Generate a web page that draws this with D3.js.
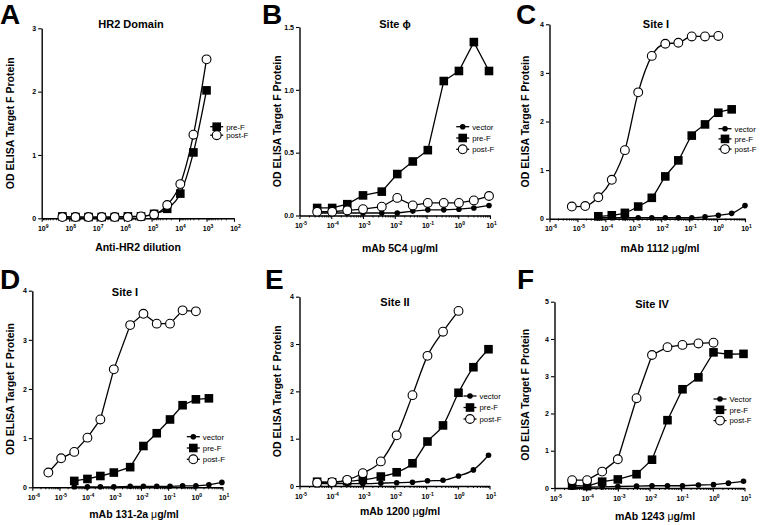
<!DOCTYPE html>
<html><head><meta charset="utf-8">
<script src="https://cdn.jsdelivr.net/npm/d3@7"></script>
<style>
body{margin:0;background:#fff}
svg{display:block}
text{font-family:"Liberation Sans",Arial,Helvetica,sans-serif;fill:#000}
</style>
</head><body>
<svg id="chart" width="760" height="525"></svg>
<script>
// ---------------- DATA ----------------
// Panel A: HR2 Domain (x = dilution, reversed log axis)
const aDilution = [1.77e8, 5.9e7, 1.97e7, 6.56e6, 2.19e6, 7.29e5, 2.43e5, 8.1e4, 2.7e4, 9.0e3, 3.0e3, 1.0e3];
const aPreF  = [0.03, 0.02, 0.02, 0.02, 0.02, 0.03, 0.03, 0.07, 0.15, 0.39, 1.04, 2.02];
const aPostF = [0.02, 0.02, 0.02, 0.02, 0.02, 0.02, 0.03, 0.06, 0.21, 0.54, 1.32, 2.51];
const aXTickExp = [9, 8, 7, 6, 5, 4, 3, 2];
const aYTicks = [0, 1, 2, 3];

// Panel B: Site phi, mAb 5C4
const bDose   = [3.6e-5, 1.07e-4, 3.2e-4, 1.0e-3, 3.9e-3, 1.2e-2, 3.7e-2, 0.11, 0.35, 1.05, 3.1, 9.3];
const bVector = [0.02, 0.02, 0.02, 0.02, 0.02, 0.02, 0.035, 0.045, 0.045, 0.05, 0.06, 0.08];
const bPreF   = [0.06, 0.06, 0.09, 0.16, 0.19, 0.33, 0.43, 0.52, 1.07, 1.15, 1.38, 1.15];
const bPostF  = [0.03, 0.03, 0.04, 0.05, 0.07, 0.14, 0.08, 0.10, 0.10, 0.10, 0.12, 0.155];
const bXTickExp = [-5, -4, -3, -2, -1, 0, 1];
const bYTicks = [0, 0.5, 1.0, 1.5];

// Panel C: Site I, mAb 1112
const cDose   = [6.3e-6, 1.9e-5, 5.6e-5, 1.7e-4, 5.0e-4, 1.5e-3, 4.6e-3, 1.4e-2, 4.1e-2, 0.124, 0.37, 1.11, 3.33, 10];
const cVector = [null, null, 0.02, 0.02, 0.02, 0.02, 0.02, 0.02, 0.02, 0.02, 0.04, 0.07, 0.11, 0.27];
const cPreF   = [null, null, 0.05, 0.07, 0.12, 0.25, 0.43, 0.87, 1.20, 1.71, 1.94, 2.18, 2.25, null];
const cPostF  = [0.25, 0.26, 0.44, 0.80, 1.41, 2.60, 3.35, 3.60, 3.62, 3.75, 3.75, 3.76, null, null];
const cXTickExp = [-6, -5, -4, -3, -2, -1, 0, 1];
const cYTicks = [0, 1, 2, 3, 4];

// Panel D: Site I, mAb 131-2a
const dDose   = [3.9e-6, 1.15e-5, 3.5e-5, 1.07e-4, 3.2e-4, 1.0e-3, 4.0e-3, 1.23e-2, 3.8e-2, 0.117, 0.34, 1.05, 3.16, 9.5];
const dVector = [null, null, 0.01, 0.01, 0.01, 0.01, 0.02, 0.02, 0.02, 0.02, 0.03, 0.03, 0.05, 0.10];
const dPreF   = [null, null, 0.13, 0.17, 0.23, 0.30, 0.41, 0.84, 1.10, 1.38, 1.67, 1.79, 1.81, null];
const dPostF  = [0.30, 0.59, 0.72, 1.01, 1.38, 2.40, 3.30, 3.53, 3.33, 3.33, 3.60, 3.58, null, null];
const dXTickExp = [-6, -5, -4, -3, -2, -1, 0, 1];
const dYTicks = [0, 1, 2, 3, 4];

// Panel E: Site II, mAb 1200
const eDose   = [3.6e-5, 1.07e-4, 3.2e-4, 1.0e-3, 3.7e-3, 1.17e-2, 3.7e-2, 0.11, 0.34, 1.05, 3.1, 9.3];
const eVector = [0.05, 0.05, 0.05, 0.05, 0.06, 0.07, 0.08, 0.11, 0.12, 0.21, 0.34, 0.65];
const ePreF   = [0.09, 0.08, 0.10, 0.13, 0.20, 0.29, 0.48, 0.94, 1.28, 1.97, 2.51, 2.89];
const ePostF  = [0.07, 0.08, 0.13, 0.27, 0.52, 1.07, 1.92, 2.75, 3.26, 3.70, null, null];
const eXTickExp = [-5, -4, -3, -2, -1, 0, 1];
const eYTicks = [0, 1, 2, 3, 4];

// Panel F: Site IV, mAb 1243
const fDose   = [3.6e-5, 1.07e-4, 3.2e-4, 1.0e-3, 3.9e-3, 1.2e-2, 3.7e-2, 0.11, 0.35, 1.05, 3.1, 9.3];
const fVector = [0.02, 0.02, 0.03, 0.04, 0.05, 0.06, 0.06, 0.06, 0.08, 0.09, 0.13, 0.18];
const fPreF   = [0.07, 0.05, 0.17, 0.23, 0.37, 0.76, 1.82, 2.65, 2.97, 3.64, 3.59, 3.60];
const fPostF  = [0.21, 0.21, 0.44, 0.77, 2.41, 3.57, 3.78, 3.84, 3.88, 3.90, null, null];
const fXTickExp = [-5, -4, -3, -2, -1, 0, 1];
const fYTicks = [0, 1, 2, 3, 4, 5];

const yAxisTitle = "OD ELISA Target F Protein";

// ---------------- LAYOUT ----------------
const panels = [
  {letter:"A", letterPos:[0,24], title:"HR2 Domain", titlePos:[131,28],
   xLabel:["Anti-HR2 dilution"], xLabelPos:[138,251],
   xRange:[41.7,234], yRange:[218.3,28.3], yMax:3, expTicks:aXTickExp, yTicks:aYTicks, yFmt:d3.format("d"),
   dose:aDilution, series:[{name:"pre-F",v:aPreF,m:"square"},{name:"post-F",v:aPostF,m:"circle"}],
   legend:[216.7,126.7,8.5], smooth:true, yLabelX:14},
  {letter:"B", letterPos:[262,24], title:"Site \u03D5", titlePos:[395,28],
   xLabel:["mAb 5C4 ","\u03BC","g/ml"], xLabelPos:[400,252],
   xRange:[299.5,490], yRange:[215.5,27], yMax:1.5, expTicks:bXTickExp, yTicks:bYTicks, yFmt:d3.format(".1f"),
   dose:bDose, series:[{name:"vector",v:bVector,m:"dot"},{name:"pre-F",v:bPreF,m:"square"},{name:"post-F",v:bPostF,m:"circle"}],
   legend:[462.7,126.7,11.3], smooth:false, yLabelX:281},
  {letter:"C", letterPos:[516,24], title:"Site I", titlePos:[656,28],
   xLabel:["mAb 1112 ","\u03BC","g/ml"], xLabelPos:[660,252],
   xRange:[549.5,745], yRange:[218.7,24.3], yMax:4, expTicks:cXTickExp, yTicks:cYTicks, yFmt:d3.format("d"),
   dose:cDose, series:[{name:"vector",v:cVector,m:"dot"},{name:"pre-F",v:cPreF,m:"square"},{name:"post-F",v:cPostF,m:"circle"}],
   legend:[725,128.7,10.2], smooth:true, yLabelX:529},
  {letter:"D", letterPos:[0,289], title:"Site I", titlePos:[125,295.5],
   xLabel:["mAb 131-2a ","\u03BC","g/ml"], xLabelPos:[134,518],
   xRange:[32.3,222.5], yRange:[487.3,290.7], yMax:4, expTicks:dXTickExp, yTicks:dYTicks, yFmt:d3.format("d"),
   dose:dDose, series:[{name:"vector",v:dVector,m:"dot"},{name:"pre-F",v:dPreF,m:"square"},{name:"post-F",v:dPostF,m:"circle"}],
   legend:[193.3,436.7,11.3], smooth:false, yLabelX:14},
  {letter:"E", letterPos:[265,289], title:"Site II", titlePos:[395,305.5],
   xLabel:["mAb 1200 ","\u03BC","g/ml"], xLabelPos:[400,515],
   xRange:[299.5,489.5], yRange:[486,296.7], yMax:4, expTicks:eXTickExp, yTicks:eYTicks, yFmt:d3.format("d"),
   dose:eDose, series:[{name:"vector",v:eVector,m:"dot"},{name:"pre-F",v:ePreF,m:"square"},{name:"post-F",v:ePostF,m:"circle"}],
   legend:[470,396,11.5], smooth:true, yLabelX:281},
  {letter:"F", letterPos:[517,289], title:"Site IV", titlePos:[652,307.5],
   xLabel:["mAb 1243 ","\u03BC","g/ml"], xLabelPos:[655,520],
   xRange:[554.5,744.5], yRange:[488,301.7], yMax:5, expTicks:fXTickExp, yTicks:fYTicks, yFmt:d3.format("d"),
   dose:fDose, series:[{name:"Vector",v:fVector,m:"dot"},{name:"pre-F",v:fPreF,m:"square"},{name:"post-F",v:fPostF,m:"circle"}],
   legend:[720,399,10.8], smooth:false, yLabelX:529}
];

// ---------------- DRAW ----------------
const svg = d3.select("#chart");
svg.append("rect").attr("width",760).attr("height",525).attr("fill","#fff");

function drawMarker(sel, type, cx, cy) {
  if (type === "square") {
    sel.append("rect").attr("x",cx-4.3).attr("y",cy-4.3).attr("width",8.6).attr("height",8.6).attr("fill","#000");
  } else if (type === "circle") {
    sel.append("circle").attr("cx",cx).attr("cy",cy).attr("r",4.4).attr("fill","#fff").attr("stroke","#000").attr("stroke-width",1.1);
  } else {
    sel.append("circle").attr("cx",cx).attr("cy",cy).attr("r",2.8).attr("fill","#000");
  }
}

panels.forEach(p => {
  const g = svg.append("g");
  const exps = p.expTicks;
  const xDom = [Math.pow(10, exps[0]), Math.pow(10, exps[exps.length-1])];
  const x = d3.scaleLog().domain(xDom).range(p.xRange);
  const y = d3.scaleLinear().domain([0, p.yMax]).range(p.yRange);
  const yBase = p.yRange[0];
  const xLeft = p.xRange[0];

  // minor ticks
  const lo = Math.min(exps[0], exps[exps.length-1]), hi = Math.max(exps[0], exps[exps.length-1]);
  const minors = [];
  for (let k = lo; k < hi; k++) for (let m = 2; m <= 9; m++) minors.push(m*Math.pow(10,k));
  const minorAxis = d3.axisBottom(x).tickValues(minors).tickSize(2).tickSizeOuter(0).tickFormat("");
  const ma = g.append("g").attr("transform",`translate(0,${yBase})`).call(minorAxis);
  ma.select(".domain").remove();
  ma.selectAll("line").attr("stroke","#000").attr("stroke-width",0.9);

  // major x axis
  const majorVals = exps.map(e => Math.pow(10,e));
  const xAxis = d3.axisBottom(x).tickValues(majorVals).tickSize(3.5).tickSizeOuter(0).tickFormat("");
  const xa = g.append("g").attr("transform",`translate(0,${yBase})`).call(xAxis);
  xa.select(".domain").attr("stroke","#000").attr("stroke-width",1.4);
  xa.selectAll("line").attr("stroke","#000").attr("stroke-width",1.1);
  exps.forEach(e => {
    const t = g.append("text").attr("x", x(Math.pow(10,e)) + 1.5).attr("y", yBase + 12.5)
      .attr("text-anchor","middle").attr("font-size",7).attr("font-weight","bold");
    t.append("tspan").text("10");
    t.append("tspan").attr("dy",-3).attr("font-size",5).text(String(e));
  });

  // y axis
  const yAxis = d3.axisLeft(y).tickValues(p.yTicks).tickSize(3.5).tickSizeOuter(0).tickFormat(p.yFmt).tickPadding(2);
  const ya = g.append("g").attr("transform",`translate(${xLeft},0)`).call(yAxis);
  ya.select(".domain").attr("stroke","#000").attr("stroke-width",1.4);
  ya.selectAll("line").attr("stroke","#000").attr("stroke-width",1.1);
  ya.selectAll("text").attr("font-size",7).attr("font-weight","bold")
    .attr("font-family","'Liberation Sans',Arial,sans-serif").attr("fill","#000");

  // series
  const line = d3.line().x(d => d.px).y(d => d.py).curve(p.smooth ? d3.curveMonotoneX : d3.curveLinear);
  p.series.forEach(s => {
    const pts = p.dose.map((dv,i) => ({v:s.v[i], px:x(dv)}))
      .filter(d => d.v !== null && d.v !== undefined)
      .map(d => ({px:d.px, py:y(d.v)}))
      .sort((a,b) => a.px - b.px);
    g.append("path").attr("d", line(pts)).attr("fill","none").attr("stroke","#000").attr("stroke-width",1.3);
    const mg = g.append("g");
    pts.forEach(d => drawMarker(mg, s.m, d.px, d.py));
  });

  // legend
  const [lx, ly, ldy] = p.legend;
  p.series.forEach((s,i) => {
    const yy = ly + i*ldy;
    g.append("line").attr("x1",lx-6.5).attr("x2",lx+6.5).attr("y1",yy).attr("y2",yy).attr("stroke","#000").attr("stroke-width",1.3);
    drawMarker(g, s.m, lx, yy);
    g.append("text").attr("x", lx+9.5).attr("y", yy+2.8).attr("font-size",7.8).text(s.name);
  });

  // titles and labels
  svg.append("text").attr("x",p.letterPos[0]).attr("y",p.letterPos[1]).attr("font-size",28).attr("font-weight","bold").text(p.letter);
  svg.append("text").attr("x",p.titlePos[0]).attr("y",p.titlePos[1]).attr("text-anchor","middle")
    .attr("font-size",11).attr("font-weight","bold").text(p.title);
  const xl = svg.append("text").attr("x",p.xLabelPos[0]).attr("y",p.xLabelPos[1]).attr("text-anchor","middle")
    .attr("font-size",10.5).attr("font-weight","bold");
  p.xLabel.forEach(part => {
    const ts = xl.append("tspan").text(part);
    if (part === "\u03BC") ts.attr("font-weight","normal");
  });
  const yMid = (p.yRange[0] + p.yRange[1]) / 2;
  svg.append("text").attr("transform",`translate(${p.yLabelX},${yMid}) rotate(-90)`).attr("text-anchor","middle")
    .attr("font-size",10.5).attr("font-weight","bold").text(yAxisTitle);
});
</script>
</body></html>
